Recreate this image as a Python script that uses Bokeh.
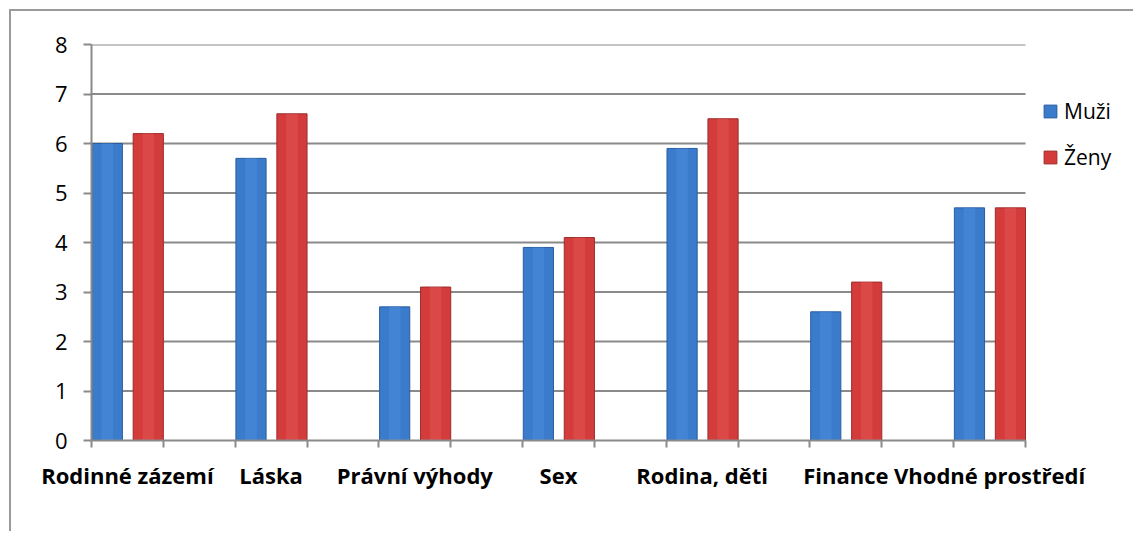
from bokeh.plotting import figure
from bokeh.models import ColumnDataSource, FixedTicker, Legend, LegendItem, Range1d
from bokeh.embed import file_html
from bokeh.resources import INLINE

categories = ["Rodinné zázemí", "Láska", "Právní výhody", "Sex", "Rodina, děti", "Finance", "Vhodné prostředí"]
muzi = [6.0, 5.7, 2.7, 3.9, 5.9, 2.6, 4.7]
zeny = [6.2, 6.6, 3.1, 4.1, 6.5, 3.2, 4.7]
y_ticks = [0, 1, 2, 3, 4, 5, 6, 7, 8]

n = len(categories)
slots = 2 * n - 1
centers = [2 * i + 0.5 for i in range(n)]

src = ColumnDataSource(dict(
    xb=[c - 0.28 for c in centers],
    xr=[c + 0.29 for c in centers],
    muzi=muzi,
    zeny=zeny,
))

FONT = "Open Sans"
GRID = "#8a8a8a"

FRAME_W = 1042
PLOT_W = 934
x_end = slots * FRAME_W / PLOT_W

p = figure(width=1124, height=522, output_backend="svg", toolbar_location=None,
           x_range=Range1d(0, x_end), y_range=Range1d(0, 8),
           min_border_left=80, min_border_right=2, min_border_top=33, min_border_bottom=93)
p.outline_line_color = None
p.background_fill_color = "white"
p.border_fill_color = "white"
p.styles = {"border-top": "2px solid #9a9a9a", "border-left": "2px solid #9a9a9a",
            "margin-left": "9px", "margin-top": "9px"}

# horizontal gridlines limited to the category area
grid_y = [t for t in y_ticks if t > 0]
p.segment(x0=[0] * len(grid_y), x1=[slots] * len(grid_y), y0=grid_y, y1=grid_y,
          line_color=GRID, line_width=2)

rb = p.vbar(x="xb", top="muzi", bottom=0, width=0.42, source=src,
            fill_color="#3b7bcc", line_color="#2a5d9f", line_width=1)
rr = p.vbar(x="xr", top="zeny", bottom=0, width=0.42, source=src,
            fill_color="#d43c3c", line_color="#9c2b2b", line_width=1)

# subtle highlight strips
p.vbar(x="xb", top="muzi", bottom=0, width=0.16, source=src,
       fill_color="#4a8ad8", fill_alpha=0.6, line_color=None)
p.vbar(x="xr", top="zeny", bottom=0, width=0.16, source=src,
       fill_color="#e05050", fill_alpha=0.6, line_color=None)

# y axis
ya = p.yaxis[0]
ya.ticker = FixedTicker(ticks=y_ticks)
ya.axis_line_color = GRID
ya.axis_line_width = 2
ya.major_tick_line_color = GRID
ya.major_tick_line_width = 2
ya.major_tick_out = 8
ya.major_tick_in = 0
ya.minor_tick_line_color = None
ya.major_label_text_font = FONT
ya.major_label_text_font_size = "22px"
ya.major_label_text_color = "black"
ya.major_label_standoff = 16

# x axis
xa = p.xaxis[0]
xa.bounds = (0, slots)
xa.ticker = FixedTicker(ticks=centers, minor_ticks=list(range(0, slots + 1)))
xa.major_label_overrides = {c: lab for c, lab in zip(centers, categories)}
xa.axis_line_color = GRID
xa.axis_line_width = 2
xa.major_tick_line_color = None
xa.minor_tick_line_color = GRID
xa.minor_tick_line_width = 2
xa.minor_tick_out = 7
xa.minor_tick_in = 0
xa.major_label_text_font = FONT
xa.major_label_text_font_style = "bold"
xa.major_label_text_font_size = "22px"
xa.major_label_text_color = "black"
xa.major_label_standoff = 12

p.xgrid.grid_line_color = None
p.ygrid.grid_line_color = None

legend = Legend(items=[LegendItem(label="Muži", renderers=[rb]),
                       LegendItem(label="Ženy", renderers=[rr])],
                location=(951, 269), orientation="vertical")
legend.border_line_color = None
legend.background_fill_alpha = 0
legend.glyph_width = 16
legend.glyph_height = 16
legend.label_height = 16
legend.spacing = 18
legend.padding = 0
legend.margin = 0
legend.label_standoff = 6
legend.label_text_font = FONT
legend.label_text_font_size = "21px"
legend.label_text_color = "black"
p.add_layout(legend, "center")

open("out.html", "w").write(file_html(p, INLINE))
